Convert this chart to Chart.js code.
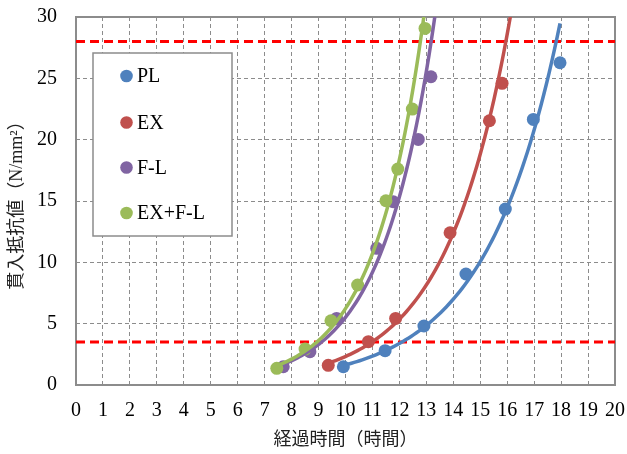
<!DOCTYPE html>
<html><head><meta charset="utf-8">
<script src="https://cdn.jsdelivr.net/npm/chart.js@4.4.1/dist/chart.umd.min.js"></script>
<style>html,body{margin:0;padding:0;background:#fff}#wrap{width:627px;height:454px}</style>
</head><body><div id="wrap"><canvas id="c" width="627" height="454"></canvas></div>
<script>
// ---- data ----
const seriesNames = ['PL', 'EX', 'F-L', 'EX+F-L'];
const seriesColors = ['#4F81BD', '#C0504D', '#8064A2', '#9BBB59'];
const plX = [9.92, 11.47, 12.91, 14.47, 15.93, 16.97, 17.96];
const plY = [1.49, 2.80, 4.81, 9.05, 14.34, 21.65, 26.27];
const exX = [9.36, 10.85, 11.86, 13.88, 15.34, 15.81];
const exY = [1.60, 3.53, 5.43, 12.41, 21.54, 24.59];
const flX = [7.69, 8.68, 9.67, 11.16, 11.77, 12.70, 13.17];
const flY = [1.49, 2.72, 5.43, 11.14, 14.94, 20.02, 25.13];
const exflX = [7.45, 8.50, 9.46, 10.45, 11.50, 11.94, 12.48, 12.95];
const exflY = [1.36, 2.93, 5.24, 8.15, 15.02, 17.60, 22.49, 29.07];
const trendEndX = [17.96, 16.6, 13.7, 13.3];   // exponential trendline extent
const limitLines = [3.5, 28];
const xTickMin = 0, xTickMax = 20, xTickStep = 1;
const yTickMin = 0, yTickMax = 30, yTickStep = 5;
const xTitle = '経過時間（時間）';
const yTitle = '貫入抵抗値（N/mm²）';

const seriesX = [plX, exX, flX, exflX];
const seriesY = [plY, exY, flY, exflY];

// exponential least-squares trendline (as in a spreadsheet's exponential trendline)
function expFit(xs, ys) {
  const n = xs.length;
  const ls = ys.map(v => Math.log(v));
  const mx = xs.reduce((a, b) => a + b, 0) / n;
  const my = ls.reduce((a, b) => a + b, 0) / n;
  let sxy = 0, sxx = 0;
  for (let i = 0; i < n; i++) { sxy += (xs[i] - mx) * (ls[i] - my); sxx += (xs[i] - mx) ** 2; }
  const b = sxy / sxx;
  const a = Math.exp(my - b * mx);
  return { a, b };
}
function trendPoints(xs, ys, endX) {
  const { a, b } = expFit(xs, ys);
  const x0 = Math.min(...xs);
  const pts = [];
  const steps = 80;
  for (let i = 0; i <= steps; i++) {
    const x = x0 + (endX - x0) * i / steps;
    pts.push({ x, y: a * Math.exp(b * x) });
  }
  return pts;
}

const datasets = [];
// trendlines (on top)
seriesNames.forEach((name, i) => {
  datasets.push({
    type: 'line', label: name + ' trend',
    data: trendPoints(seriesX[i], seriesY[i], trendEndX[i]),
    borderColor: seriesColors[i], borderWidth: 3.5, pointRadius: 0,
    fill: false, tension: 0, order: 10 - i, clip: 0
  });
});
// markers
seriesNames.forEach((name, i) => {
  datasets.push({
    type: 'scatter', label: name,
    data: seriesX[i].map((x, k) => ({ x, y: seriesY[i][k] })),
    backgroundColor: seriesColors[i], borderColor: seriesColors[i],
    pointRadius: 6.5, pointBorderWidth: 0, pointHoverRadius: 6.5,
    order: 50 - i
  });
});
// red dashed limit lines (bottom)
limitLines.forEach(v => {
  datasets.push({
    type: 'line', label: 'limit ' + v,
    data: [{ x: xTickMin, y: v }, { x: xTickMax, y: v }],
    borderColor: '#FF0000', borderWidth: 3, borderDash: [9, 5],
    pointRadius: 0, fill: false, order: 100, clip: 0
  });
});

const frameAndLegend = {
  id: 'frameAndLegend',
  beforeDatasetsDraw(chart) {
    const { ctx, chartArea: ca } = chart;
    ctx.save();
    ctx.strokeStyle = '#8C8C8C';
    ctx.lineWidth = 2;
    ctx.setLineDash([]);
    ctx.strokeRect(ca.left, ca.top, ca.right - ca.left, ca.bottom - ca.top);
    ctx.restore();
  },
  afterDatasetsDraw(chart) {
    const { ctx } = chart;
    const bx = 93, by = 53, bw = 139, bh = 183;
    ctx.save();
    ctx.fillStyle = '#FFFFFF';
    ctx.fillRect(bx, by, bw, bh);
    ctx.strokeStyle = '#8C8C8C';
    ctx.lineWidth = 1.5;
    ctx.setLineDash([]);
    ctx.strokeRect(bx, by, bw, bh);
    const rowY = [76, 122.5, 167.5, 213];
    ctx.font = "20px 'Liberation Serif', 'Times New Roman', serif";
    ctx.textBaseline = 'middle';
    ctx.textAlign = 'left';
    seriesNames.forEach((name, i) => {
      ctx.beginPath();
      ctx.fillStyle = seriesColors[i];
      ctx.arc(126.5, rowY[i], 6.3, 0, Math.PI * 2);
      ctx.fill();
      ctx.fillStyle = '#000000';
      ctx.fillText(name, 137, rowY[i] + 1);
    });
    ctx.restore();
  }
};

const tickFont = { family: "'Liberation Serif', 'Times New Roman', serif", size: 20 };
const titleFont = { family: "'Liberation Serif', 'Noto Sans CJK JP', serif", size: 18 };

new Chart(document.getElementById('c'), {
  type: 'scatter',
  data: { datasets },
  options: {
    responsive: false,
    devicePixelRatio: 1,
    animation: false,
    events: [],
    layout: { padding: 0 },
    plugins: { legend: { display: false }, tooltip: { enabled: false } },
    scales: {
      x: {
        type: 'linear', min: xTickMin, max: xTickMax,
        ticks: { stepSize: xTickStep, color: '#000', font: tickFont, padding: 14, maxRotation: 0, autoSkip: false },
        grid: { color: '#8C8C8C', lineWidth: 1, drawTicks: false },
        border: { display: false, dash: [4, 3] },
        title: { display: true, text: xTitle, color: '#222', font: titleFont, padding: { top: 0, bottom: 3 } },
        afterFit(s) { s.height = 69; s.paddingRight = 12; s.paddingLeft = 0; }
      },
      y: {
        type: 'linear', min: yTickMin, max: yTickMax,
        ticks: { stepSize: yTickStep, color: '#000', font: tickFont, padding: 19 },
        grid: { color: '#8C8C8C', lineWidth: 1, drawTicks: false },
        border: { display: false, dash: [4, 3] },
        title: { display: true, text: yTitle, color: '#222', font: titleFont, padding: { top: 6, bottom: 0 } },
        afterFit(s) { s.width = 76; s.paddingTop = 17; s.paddingBottom = 0; }
      }
    }
  },
  plugins: [frameAndLegend]
});
</script>
</body></html>
